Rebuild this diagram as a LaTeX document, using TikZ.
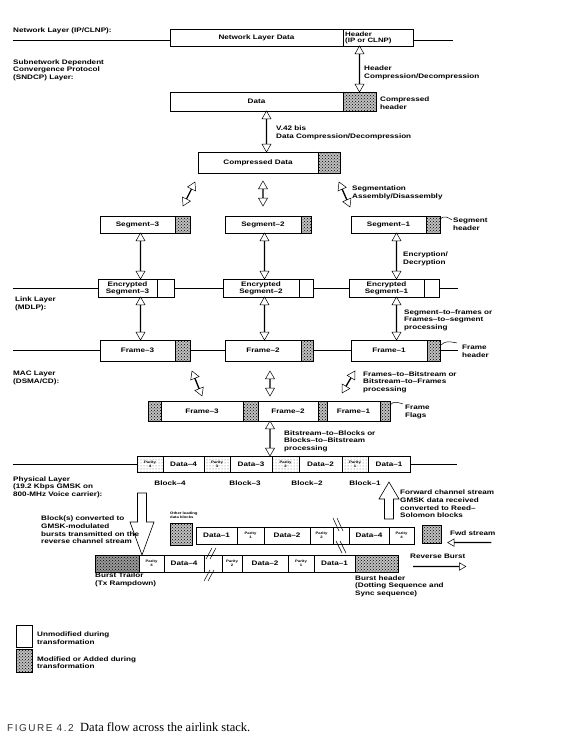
\documentclass[tikz,border=0pt]{standalone}
\usepackage{fontspec}
\setmainfont{Liberation Serif}
\newfontfamily\figfont[FakeStretch=1.25,Ligatures=TeX]{Liberation Sans}
\newfontfamily\capfont[LetterSpace=15]{Liberation Sans}
\usetikzlibrary{arrows.meta,calc,patterns,positioning,shapes.arrows}

\newcommand{\cellfont}{\figfont\bfseries\fontsize{6.5}{7}\selectfont}
\newcommand{\lblfont}{\figfont\bfseries\fontsize{6.5}{7.6}\selectfont}
\newcommand{\tightfont}{\figfont\bfseries\fontsize{6.3}{6.6}\selectfont}
\newcommand{\tinyfont}{\figfont\bfseries\fontsize{3.4}{3.8}\selectfont}

% hollow arrow between two points: name, style, from, to
\newcommand{\hollowarrow}[4]{%
  \path let \p1=(#3), \p2=(#4), \n1={atan2(\y2-\y1,\x2-\x1)}, \n2={veclen(\x2-\x1,\y2-\y1)} in
    node[#2, minimum height=\n2, rotate=\n1] (#1) at ($(\p1)!0.5!(\p2)$) {};}

\tikzset{
  cell/.style={draw, line width=0.6pt, inner sep=0pt, outer sep=0pt, anchor=north west, align=center, font=\cellfont},
  modcell/.style={preaction={fill=gray!50}, pattern=crosshatch dots, pattern color=black},
  darkcell/.style={preaction={fill=gray!80}, pattern=crosshatch dots, pattern color=black},
  lightcell/.style={pattern=dots, pattern color=black!60},
  cellk/.code={\ifnum#1=1 \tikzset{modcell}\fi
               \ifnum#1=2 \tikzset{lightcell,font=\tinyfont}\fi
               \ifnum#1=3 \tikzset{darkcell}\fi
               \ifnum#1=4 \tikzset{font=\tinyfont}\fi},
  lbl/.style={font=\lblfont, align=left, inner sep=0pt, anchor=west},
  layerline/.style={line width=0.6pt},
  hollowdbl/.style={double arrow, draw, fill=white, line width=0.5pt, inner sep=0pt, outer sep=0pt,
    minimum width=9pt, double arrow head extend=2.5pt, double arrow tip angle=60},
  hollowsgl/.style={single arrow, draw, fill=white, line width=0.5pt, inner sep=0pt, outer sep=0pt,
    minimum width=7.5pt, single arrow head extend=2.2pt, single arrow tip angle=60},
  bigarrow/.style={line width=0.6pt, fill=white},
}

\begin{document}
\begin{tikzpicture}[x=1pt,y=-1pt]
  \useasboundingbox (0,0) rectangle (567,754);

  % Network layer
  \foreach \nm/\xa/\xb/\kd/\txt in {nld/170/343/0/{Network Layer Data}, nhdr/343/413/0/{}}
    \node[cell, cellk=\kd, minimum width={(\xb-\xa)*1pt}, minimum height=17pt] (\nm) at (\xa,29) {\txt};
  \node[lbl, font=\tightfont] (nhdrt) at ($(nhdr.west)+(2,0.5)$) {Header\\(IP or CLNP)};
  \node[lbl] (netlbl) at (13,31) {Network Layer (IP/CLNP):};
  \coordinate (netL) at (13,40);
  \draw[layerline] (netL) -- (netL -| nld.west);
  \draw[layerline] (nhdr.east |- netL) -- ++(40,0);

  % SNDCP layer
  \node[lbl] (snlbl) at (13,70) {Subnetwork Dependent\\Convergence Protocol\\(SNDCP) Layer:};
  \foreach \nm/\xa/\xb/\kd/\txt in {dat/170/343/0/{Data}, dhdr/343/376/1/{}}
    \node[cell, cellk=\kd, minimum width={(\xb-\xa)*1pt}, minimum height=19pt] (\nm) at (\xa,92) {\txt};
  \hollowarrow{arhc}{hollowdbl}{nhdr.south -| dhdr.north}{dhdr.north}
  \node[lbl] (hclbl) at (364,73) {Header\\Compression/Decompression};
  \node[lbl] (chlbl) at (380,103) {Compressed\\header};

  \foreach \nm/\xa/\xb/\kd/\txt in {cdat/198/318/0/{Compressed Data}, cdhdr/318/340/1/{}}
    \node[cell, cellk=\kd, minimum width={(\xb-\xa)*1pt}, minimum height=21pt] (\nm) at (\xa,152) {\txt};
  \coordinate (v42) at ($(dat.south)+(10,0)$);
  \hollowarrow{arv42}{hollowdbl}{v42}{v42 |- cdat.north}
  \node[lbl] (v42lbl) at (276,133) {V.42 bis\\Data Compression/Decompression};

  % Segments
  \foreach \nm/\xa/\xb/\kd/\txt in {seg3/100/175/0/{Segment--3}, seg3h/175/190/1/{},
      seg2/225/301/0/{Segment--2}, seg2h/301/311/1/{}, seg1/351/426/0/{Segment--1}, seg1h/426/440/1/{}}
    \node[cell, cellk=\kd, minimum width={(\xb-\xa)*1pt}, minimum height=17pt] (\nm) at (\xa,216) {\txt};
  \coordinate (sg3a) at ($(cdat.south west)+(-3,9)$);
  \coordinate (sg3b) at ($(seg3h.north east)+(-7,-10)$);
  \coordinate (sg2a) at ($(seg2.north |- cdat.south)+(0,8)$);
  \coordinate (sg2b) at ($(seg2.north)+(0,-10)$);
  \coordinate (sg1a) at ($(cdhdr.south east)+(-1,9)$);
  \coordinate (sg1b) at ($(seg1.north west)+(-1,-9)$);
  \foreach \i in {1,2,3} {
    \hollowarrow{arsg\i}{hollowdbl}{sg\i a}{sg\i b}
  }
  \node[lbl] (sadlbl) at (352,193) {Segmentation\\Assembly/Disassembly};
  \node[lbl] (shlbl) at (453,224) {Segment\\header};
  \draw[line width=0.5pt] ($(seg1h.north east)+(0,4)$) .. controls +(3,-6) and +(-3,-2) .. ($(shlbl.west)+(-1,-4)$);

  % Link layer
  \foreach \nm/\xa/\xb/\kd/\txt in {enc3/98/157/0/{Encrypted\\Segment--3}, enc3h/157/174/0/{},
      enc2/223/299/0/{Encrypted\\Segment--2}, enc2h/299/313/0/{}, enc1/349/424/0/{Encrypted\\Segment--1}, enc1h/424/439/0/{}}
    \node[cell, cellk=\kd, minimum width={(\xb-\xa)*1pt}, minimum height=18pt] (\nm) at (\xa,279) {\txt};
  \coordinate (lnkL) at (13,288);
  \draw[layerline] (lnkL) -- (enc3.west);
  \draw[layerline] (enc3h.east) -- (enc2.west);
  \draw[layerline] (enc2h.east) -- (enc1.west);
  \draw[layerline] (enc1h.east) -- ++(19,0);
  \node[lbl] (lklbl) at (15,304) {Link Layer\\(MDLP):};
  \node[lbl] (edlbl) at (403,259) {Encryption/\\Decryption};

  % MAC layer
  \foreach \nm/\xa/\xb/\kd/\txt in {fr3/100/175/0/{Frame--3}, fr3h/175/190/1/{},
      fr2/225/301/0/{Frame--2}, fr2h/301/313/1/{}, fr1/351/427/0/{Frame--1}, fr1h/427/440/1/{}}
    \node[cell, cellk=\kd, minimum width={(\xb-\xa)*1pt}, minimum height=21pt] (\nm) at (\xa,340) {\txt};
  \coordinate (macL) at (13,350.5);
  \draw[layerline] (macL) -- (fr3.west);
  \draw[layerline] (fr3h.east) -- (fr2.west);
  \draw[layerline] (fr2h.east) -- (fr1.west);
  \draw[layerline] (fr1h.east) -- ++(18,0);
  \node[lbl] (sfplbl) at (404,320) {Segment--to--frames or\\Frames--to--segment\\processing};
  \node[lbl] (fhlbl) at (462,351) {Frame\\header};
  \draw[line width=0.5pt] ($(fr1h.north east)+(1,5)$) .. controls +(4,-5) and +(-5,-1) .. ($(fhlbl.west)+(-5,-8)$);
  \node[lbl] (maclbl) at (13,378) {MAC Layer\\(DSMA/CD):};

  % segments down to frames
  \coordinate (colA) at ($(seg3.south)+(3,0)$);
  \coordinate (colB) at ($(seg2.south)+(1.5,0)$);
  \coordinate (colC) at ($(seg1.south)+(8,0)$);
  \foreach \c/\e/\f in {colA/enc3/fr3, colB/enc2/fr2, colC/enc1/fr1} {
    \hollowarrow{are\c}{hollowdbl}{\c}{\c |- \e.north}
    \hollowarrow{arf\c}{hollowdbl}{\c |- \e.south}{\c |- \f.north}
  }

  % Bitstream
  \foreach \nm/\xa/\xb/\kd/\txt in {fl4/148/161/1/{}, bs3/161/243/0/{Frame--3}, fl3/243/258/1/{},
      bs2/258/318/0/{Frame--2}, fl2/318/327/1/{}, bs1/327/380/0/{Frame--1}, fl1/380/390/1/{}}
    \node[cell, cellk=\kd, minimum width={(\xb-\xa)*1pt}, minimum height=20pt] (\nm) at (\xa,401) {\txt};
  \coordinate (colE) at ($(fr2.south)+(7,0)$);
  \coordinate (bt3a) at ($(fr3h.south east)+(2,10)$);
  \coordinate (bt3b) at ($(fl3.north west)+(-41,-5)$);
  \coordinate (bt2a) at ($(colE)+(0,10)$);
  \coordinate (bt2b) at ($(colE |- bs2.north)+(0,-5)$);
  \coordinate (bt1a) at ($(fr1.south west)+(4,10)$);
  \coordinate (bt1b) at ($(fr1.south west)+(-9,32)$);
  \foreach \i in {1,2,3} {
    \hollowarrow{arbt\i}{hollowdbl}{bt\i a}{bt\i b}
  }
  \node[lbl] (fbplbl) at (363,382) {Frames--to--Bitstream or\\Bitstream--to--Frames\\processing};
  \node[lbl] (fflbl) at (405,412) {Frame\\Flags};
  \draw[line width=0.5pt] ($(fl1.north east)+(0,4)$) .. controls +(4,-5) and +(-4,-1) .. ($(fflbl.west)+(-2,-8)$);

  % Physical layer blocks
  \foreach \nm/\xa/\xb/\kd/\txt in {bp4/137/163/2/{Parity\\4}, bd4/163/204/0/{Data--4}, bp3/204/230/2/{Parity\\3},
      bd3/230/272/0/{Data--3}, bp2/272/299/2/{Parity\\2}, bd2/299/342/0/{Data--2},
      bp1/342/368/2/{Parity\\1}, bd1/368/410/0/{Data--1}}
    \node[cell, cellk=\kd, minimum width={(\xb-\xa)*1pt}, minimum height=16pt] (\nm) at (\xa,456) {\txt};
  \coordinate (phyL) at (13,464);
  \draw[layerline] (phyL) -- (bp4.west);
  \draw[layerline] (bd1.east) -- ++(47,0);
  \coordinate (colD) at ($(bs2.south west)+(12,0)$);
  \hollowarrow{arbb}{hollowdbl}{colD}{colD |- bp2.north}
  \node[lbl] (bbplbl) at (284,441) {Bitstream--to--Blocks or\\Blocks--to--Bitstream\\processing};
  \foreach \nm/\x/\t in {bl4/170/4, bl3/245/3, bl2/307/2, bl1/365/1}
    \node[lbl, anchor=center] (\nm) at (\x,483) {Block--\t};
  \node[lbl] (phylbl) at (13,487) {Physical Layer\\(19.2 Kbps GMSK on\\800-MHz Voice carrier):};

  % Forward channel stream
  \node[cell, cellk=1, minimum width=22pt, minimum height=22pt] (oth) at (170,523) {};
  \node[lbl, font=\tinyfont] (othlbl) at (170,515) {Other leading\\data blocks};
  \foreach \nm/\xa/\xb/\kd/\txt in {fd1/196/237/0/{Data--1}, fp1/237/264/4/{Parity\\1}, fd2/264/310/0/{Data--2},
      fp2/310/333/4/{Parity\\2}, fbrk/333/349/0/{}, fd4/349/389/0/{Data--4}, fp4/389/414/4/{Parity\\4}}
    \node[cell, cellk=\kd, minimum width={(\xb-\xa)*1pt}, minimum height=17pt] (\nm) at (\xa,527) {\txt};
  \node[cell, cellk=1, minimum width=19pt, minimum height=18pt] (fws) at (422,525) {};
  \node[lbl] (fwslbl) at (450,533) {Fwd stream};
  \coordinate (fwa) at ($(fwslbl.south east)+(-4,7)$);
  \coordinate (fwb) at ($(fwslbl.south west)+(-2,7)$);
  \hollowarrow{arfw}{hollowsgl}{fwa}{fwb}
  \foreach \d in {0,4} {
    \draw[line width=0.5pt] ($(fbrk.north west)+(0+\d,-9)$) -- ++(6,13);
    \draw[line width=0.5pt] ($(fbrk.south west)+(3+\d,-3)$) -- ++(6,12);
  }
  \coordinate (upTip) at ($(bd1.south)+(0,10)$);
  \draw[bigarrow] (upTip) -- ++(10,17) -- ++(-5.5,0) -- ++(0,20) -- ++(-9,0) -- ++(0,-20) -- ++(-5.5,0) -- cycle;
  \node[lbl] (fwdlbl) at (400,504) {Forward channel stream\\GMSK data received\\converted to Reed--\\Solomon blocks};

  % Reverse burst
  \foreach \nm/\xa/\xb/\kd/\txt in {rtr/95/139/3/{}, rp4/139/164/4/{Parity\\4}, rd4/164/204/0/{Data--4},
      rbrk/204/222/0/{}, rp2/222/242/4/{Parity\\2}, rd2/242/288/0/{Data--2},
      rp1/288/314/4/{Parity\\1}, rd1/314/355/0/{Data--1}, rhd/355/398/1/{}}
    \node[cell, cellk=\kd, minimum width={(\xb-\xa)*1pt}, minimum height=17pt] (\nm) at (\xa,555) {\txt};
  \foreach \d in {0,4} {
    \draw[line width=0.5pt] ($(rbrk.north west)+(2+\d,4)$) -- ++(6,-11);
    \draw[line width=0.5pt] ($(rbrk.south west)+(0+\d,9)$) -- ++(6,-11);
  }
  \coordinate (dnTip) at ($(rp4.north west)+(3,0)$);
  \draw[bigarrow] (dnTip) -- ++(-12,-33) -- ++(7.5,0) -- ++(0,-29) -- ++(9,0) -- ++(0,29) -- ++(7.5,0) -- cycle;
  \node[lbl] (revlbl) at (41,530) {Block(s) converted to\\GMSK-modulated\\bursts transmitted on the\\reverse channel stream};
  \node[lbl] (rvblbl) at (410,556) {Reverse Burst};
  \coordinate (rva) at ($(rvblbl.south west)+(3,8)$);
  \coordinate (rvb) at ($(rvblbl.south east)+(0,8)$);
  \hollowarrow{arrv}{hollowsgl}{rva}{rvb}
  \node[lbl] (btlbl) at (95,580) {Burst Trailor\\(Tx Rampdown)};
  \node[lbl] (bhlbl) at (355,586) {Burst header\\(Dotting Sequence and\\Sync sequence)};

  % Legend
  \node[cell, minimum width=16pt, minimum height=22pt] (lgu) at (16,625) {};
  \node[cell, cellk=1, minimum width=16pt, minimum height=23pt] (lgm) at (16,649) {};
  \node[lbl] (lgut) at ($(lgu.east)+(5,2)$) {Unmodified during\\transformation};
  \node[lbl] (lgmt) at ($(lgm.east)+(5,2)$) {Modified or Added during\\transformation};

  % Caption
  \node[anchor=base west, inner sep=0pt, text=black!80] (capnum) at (7,731) {\capfont\fontsize{10}{12}\selectfont FIGURE 4.2};
  \node[anchor=base west, inner sep=0pt] (captxt) at (80,731) {\fontsize{12.5}{14}\selectfont Data flow across the airlink stack.};
\end{tikzpicture}
\end{document}
